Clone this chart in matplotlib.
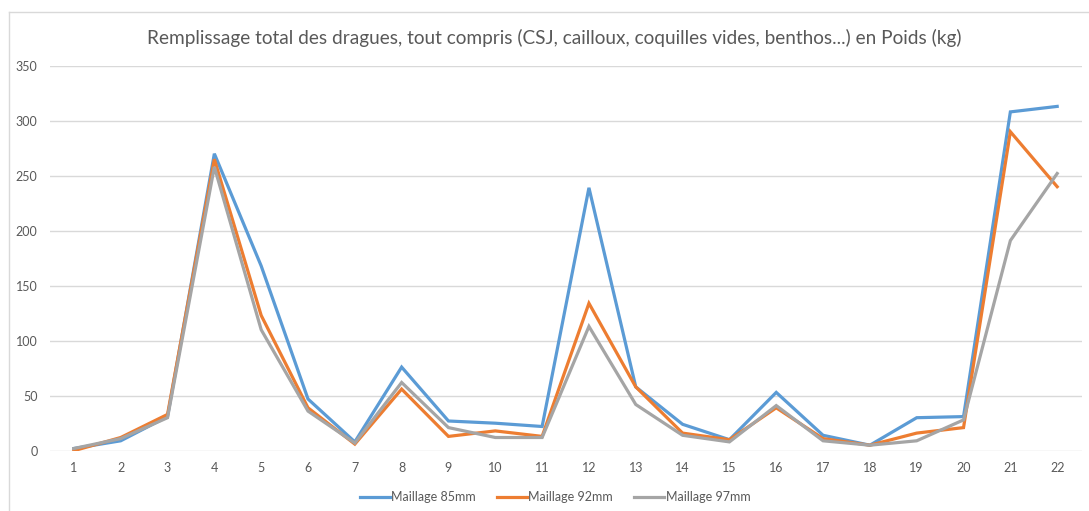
import matplotlib.pyplot as plt
from matplotlib.lines import Line2D

plt.rcParams['font.family'] = ['Lato', 'DejaVu Sans']

# Data
traits = list(range(1, 23))
maillage_85 = [2, 9, 31, 270, 168, 47, 8, 76, 27, 25, 22, 239, 58, 24, 10, 53, 14, 5, 30, 31, 308, 313]
maillage_92 = [0, 12, 33, 265, 123, 39, 6, 56, 13, 18, 13, 134, 58, 16, 10, 39, 11, 5, 16, 21, 290, 240]
maillage_97 = [2, 11, 30, 258, 110, 36, 7, 62, 21, 12, 12, 113, 42, 14, 8, 41, 9, 5, 9, 28, 191, 252]
yticks = [0, 50, 100, 150, 200, 250, 300, 350]

W, H = 1089, 511
fig = plt.figure(figsize=(W / 100, H / 100), dpi=100)
ax = fig.add_axes([50 / W, 1 - 450.7 / H, (1082 - 50) / W, (450.7 - 65.7) / H])

ax.plot(traits, maillage_85, color='#5B9BD5', lw=2.3, label='Maillage 85mm', solid_joinstyle='miter')
ax.plot(traits, maillage_92, color='#ED7D31', lw=2.3, label='Maillage 92mm', solid_joinstyle='miter')
ax.plot(traits, maillage_97, color='#A5A5A5', lw=2.3, label='Maillage 97mm', solid_joinstyle='miter')

ax.set_xlim(0.49, 22.53)
ax.set_ylim(0, 350)
ax.set_xticks(traits)
ax.set_yticks(yticks)
ax.grid(axis='y', color='#D9D9D9', lw=1)
ax.set_axisbelow(True)
for s in ax.spines.values():
    s.set_visible(False)
ax.tick_params(length=0, labelsize=9, labelcolor='#595959')
ax.tick_params(axis='y', pad=9)
ax.tick_params(axis='x', pad=8)

fig.text(554 / W, 1 - 38 / H, 'Remplissage total des dragues, tout compris (CSJ, cailloux, coquilles vides, benthos...) en Poids (kg)',
         ha='center', va='center', fontsize=13.7, color='#595959')

leg = fig.legend(loc='center', bbox_to_anchor=(555 / W, 1 - 497 / H), ncol=3, frameon=False,
                 fontsize=9, labelcolor='#595959', handlelength=2.4, handletextpad=0.1, columnspacing=1.7)

# chart border (top and left edges visible in the screenshot)
fig.add_artist(Line2D([8.5 / W, 1], [1 - 12 / H, 1 - 12 / H], color='#D9D9D9', lw=1, transform=fig.transFigure))
fig.add_artist(Line2D([8.5 / W, 8.5 / W], [0, 1 - 12 / H], color='#D9D9D9', lw=1, transform=fig.transFigure))

fig.savefig('out.png', dpi=100)
